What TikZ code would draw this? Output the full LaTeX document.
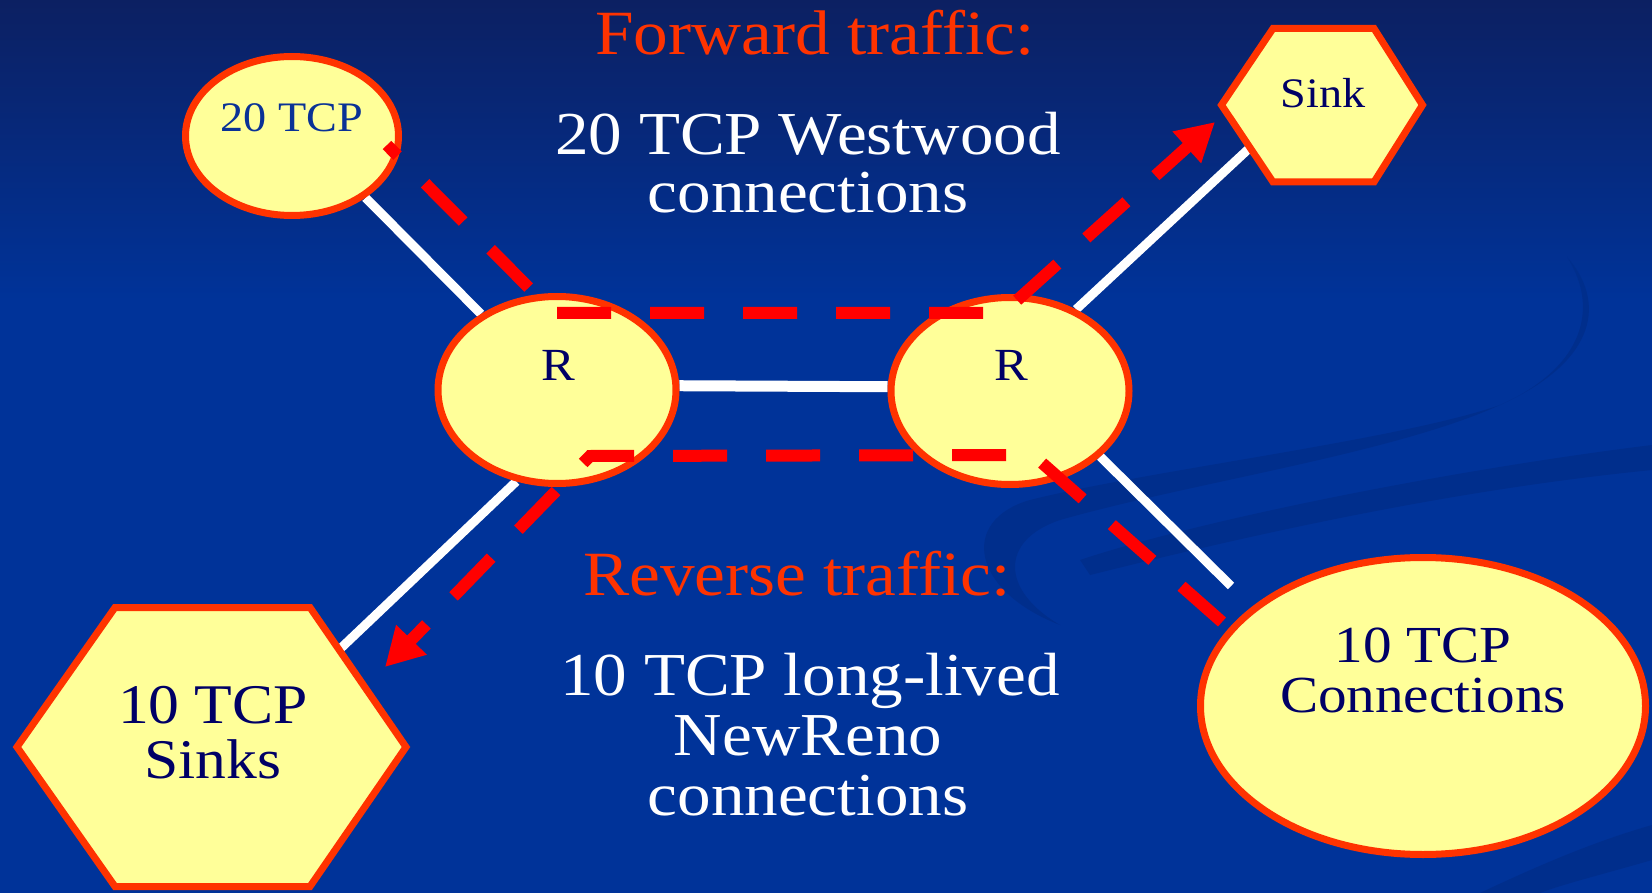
\documentclass[tikz,border=0pt]{standalone}
\usepackage{fontspec}
\setmainfont{Liberation Serif}[FakeStretch=1.1]
\usetikzlibrary{shapes.geometric,arrows.meta}
\pgfdeclarelayer{back}
\pgfdeclarelayer{wires}
\pgfsetlayers{back,wires,main}
\definecolor{bgblue}{RGB}{0,51,153}
\definecolor{topblue}{RGB}{12,32,98}
\definecolor{swooshblue}{RGB}{0,46,140}
\definecolor{nodefill}{RGB}{255,255,153}
\definecolor{nodeborder}{RGB}{255,51,0}
\definecolor{titlered}{RGB}{255,51,0}
\definecolor{dashred}{RGB}{255,0,0}
\definecolor{navy}{RGB}{0,0,102}
\definecolor{midblue}{RGB}{10,50,150}
\begin{document}
\begin{tikzpicture}[x=1pt,y=-1pt,
  blob/.style={ellipse, draw=nodeborder, fill=nodefill, line width=7pt, inner sep=0pt},
  hexa/.style={draw=nodeborder, fill=nodefill, line width=7pt, line join=miter},
  wire/.style={draw=white, line width=9pt},
  flow/.style={draw=dashred, line width=12pt, line join=miter, dash pattern=on 54pt off 39pt, -{Triangle[width=40pt,length=38pt]}},
  bigtext/.style={text=white, font=\fontsize{61}{61}\selectfont, anchor=base, inner sep=0pt},
  titletext/.style={text=titlered, font=\fontsize{63}{63}\selectfont, anchor=base, inner sep=0pt},
  lbl/.style={text=navy, anchor=base, inner sep=0pt}]
\useasboundingbox (0,0) rectangle (1652,893);
\begin{pgfonlayer}{back}
  \fill[bgblue] (0,0) rectangle (1652,893);
  \shade[top color=topblue, bottom color=bgblue] (0,0) rectangle (1652,300);
  \fill[swooshblue] (1567,257) .. controls (1605,300) and (1600,360) .. (1500,405)
     .. controls (1400,440) and (1150,470) .. (1030,500)
     .. controls (960,520) and (970,590) .. (1060,625)
     .. controls (1000,590) and (1000,540) .. (1060,520)
     .. controls (1200,480) and (1420,450) .. (1520,395)
     .. controls (1590,355) and (1595,300) .. (1567,257) -- cycle;
  \fill[swooshblue] (1652,445) .. controls (1450,470) and (1200,520) .. (1080,560)
     -- (1090,575) .. controls (1250,535) and (1450,490) .. (1652,470) -- cycle;
  \fill[swooshblue] (1480,893) .. controls (1550,860) and (1600,840) .. (1652,825)
     -- (1652,860) .. controls (1600,875) and (1560,885) .. (1540,893) -- cycle;
\end{pgfonlayer}

% nodes
\node[blob, minimum width=213pt, minimum height=159pt] (tcp20) at (292,136) {};
\node[blob, minimum width=238pt, minimum height=187pt] (RL) at (557,390) {};
\node[blob, minimum width=238pt, minimum height=187pt] (RR) at (1010,391) {};
\node[blob, minimum width=445pt, minimum height=297pt] (conn) at (1423,706) {};
\filldraw[hexa] (1221.5,105) -- (1273,28.5) -- (1374,28.5) -- (1422.5,105) -- (1374,182) -- (1273,182) -- cycle;
\filldraw[hexa] (17,747) -- (115,607.5) -- (310,607.5) -- (406,747) -- (310,886.5) -- (115,886.5) -- cycle;
\coordinate (sinkport) at (1256,142);
\coordinate (sinksport) at (340,649);
\coordinate (connport) at (1231,586);

% node labels
\node[lbl, text=midblue, font=\fontsize{42}{42}\selectfont] (t20) at (292,132) {20 TCP};
\node[lbl, font=\fontsize{42}{42}\selectfont] (tsink) at (1323,108) {Sink};
\node[lbl, font=\fontsize{46}{46}\selectfont] (tRL) at (558,380) {R};
\node[lbl, font=\fontsize{46}{46}\selectfont] (tRR) at (1011,380) {R};
\node[lbl, font=\fontsize{56}{56}\selectfont] (ts1) at (213,723) {10 TCP};
\node[lbl, font=\fontsize{56}{56}\selectfont] (ts2) at (213,778) {Sinks};
\node[lbl, font=\fontsize{52}{52}\selectfont] (tc1) at (1423,662) {10 TCP};
\node[lbl, font=\fontsize{52}{52}\selectfont] (tc2) at (1423,712) {Connections};

% free texts
\node[titletext] (fwdtitle) at (815,55) {Forward traffic:};
\node[bigtext] (fwd1) at (808,155) {20 TCP Westwood};
\node[bigtext] (fwd2) at (808,213) {connections};
\node[titletext] (revtitle) at (797,595) {Reverse traffic:};
\node[bigtext] (rev1) at (810,695) {10 TCP long-lived};
\node[bigtext] (rev2) at (808,755) {NewReno};
\node[bigtext] (rev3) at (808,815) {connections};

% white links
\begin{pgfonlayer}{wires}
  \draw[wire] (tcp20.-40) -- (RL.135);
  \draw[wire, line width=11pt] (RL.2) -- (RR.178);
  \draw[wire] (RR.51) -- (sinkport);
  \draw[wire] (RL.246) -- (sinksport);
  \draw[wire] (RR.-36) -- (connport);
\end{pgfonlayer}

% red traffic flows
\coordinate (f0) at (387,145);
\coordinate (f1) at (554,313);
\coordinate (f2) at (1003,313);
\coordinate (f3) at (1215,122);
\draw[flow, dash phase=39pt] (f0) -- (f1) -- (f2) -- (f3);
\coordinate (r0) at (1222,622);
\coordinate (r1) at (1033,455);
\coordinate (r2) at (590,456);
\coordinate (r3) at (385,667);
\draw[flow] (r0) -- (r1) -- (r2) -- (r3);
\end{tikzpicture}
\end{document}
